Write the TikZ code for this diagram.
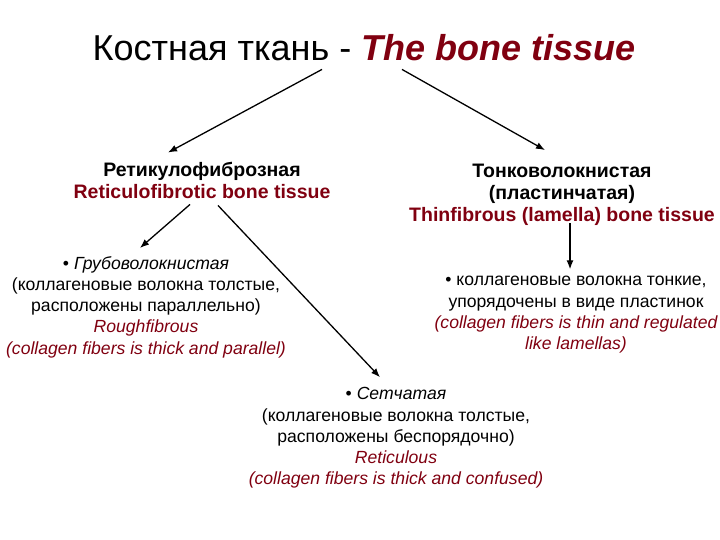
\documentclass[tikz,border=0pt]{standalone}
\usepackage{fontspec}
\setmainfont{Liberation Sans}
\usetikzlibrary{positioning,arrows.meta}
\definecolor{bonered}{RGB}{128,0,16}
\tikzset{
  heading/.style={
    align=center, inner sep=1pt,
    font=\fontsize{19.5}{22}\selectfont\bfseries
  },
  textblock/.style={
    align=center, inner sep=1pt,
    font=\fontsize{17.6}{21.3}\selectfont
  },
  arrow/.style={-{Latex[length=9pt,width=7pt]}, line width=1.3pt}
}

\begin{document}
\begin{tikzpicture}[x=1pt, y=-1pt]
  \useasboundingbox (0,0) rectangle (720,540);

  \node[inner sep=0pt, font=\fontsize{36}{40}\selectfont] (title) at (364,48)
    {Костная ткань - \textcolor{bonered}{\bfseries\itshape The bone tissue}};

  \node[heading] (reti) at (202,180)
    {Ретикулофиброзная\\\textcolor{bonered}{Reticulofibrotic bone tissue}};
  \node[heading] (thin) at (562,195)
    {Тонковолокнистая\\(пластинчатая)\\\textcolor{bonered}{Thinfibrous (lamella) bone tissue}};

  \node[textblock] (rough) at (146,307)
    {• \textit{Грубоволокнистая}\\(коллагеновые волокна толстые,\\расположены параллельно)\\
     \textcolor{bonered}{\itshape Roughfibrous}\\\textcolor{bonered}{\itshape (collagen fibers is thick and parallel)}};
  \node[textblock] (lamel) at (576,315)
    {• коллагеновые волокна тонкие,\\упорядочены в виде пластинок\\
     \textcolor{bonered}{\itshape (collagen fibers is thin and regulated}\\\textcolor{bonered}{\itshape like lamellas)}};
  \node[textblock] (mesh) at (396,438)
    {• \textit{Сетчатая}\\(коллагеновые волокна толстые,\\расположены беспорядочно)\\
     \textcolor{bonered}{\itshape Reticulous}\\\textcolor{bonered}{\itshape (collagen fibers is thick and confused)}};

  \draw[arrow] ([xshift=-42pt,yshift=-8pt]title.south) -- ([xshift=-34pt,yshift=8pt]reti.north);
  \draw[arrow] ([xshift=38pt,yshift=-8pt]title.south) -- ([xshift=-17pt,yshift=13pt]thin.north);
  \draw[arrow] ([xshift=-12pt,yshift=-5pt]reti.south) -- ([xshift=-6pt,yshift=7pt]rough.north);
  \draw[arrow] ([xshift=16pt,yshift=-6pt]reti.south) -- ([xshift=-16pt,yshift=9pt]mesh.north);
  \draw[arrow] ([xshift=8pt,yshift=4pt]thin.south) -- ([xshift=-6pt,yshift=6pt]lamel.north);
\end{tikzpicture}
\end{document}
